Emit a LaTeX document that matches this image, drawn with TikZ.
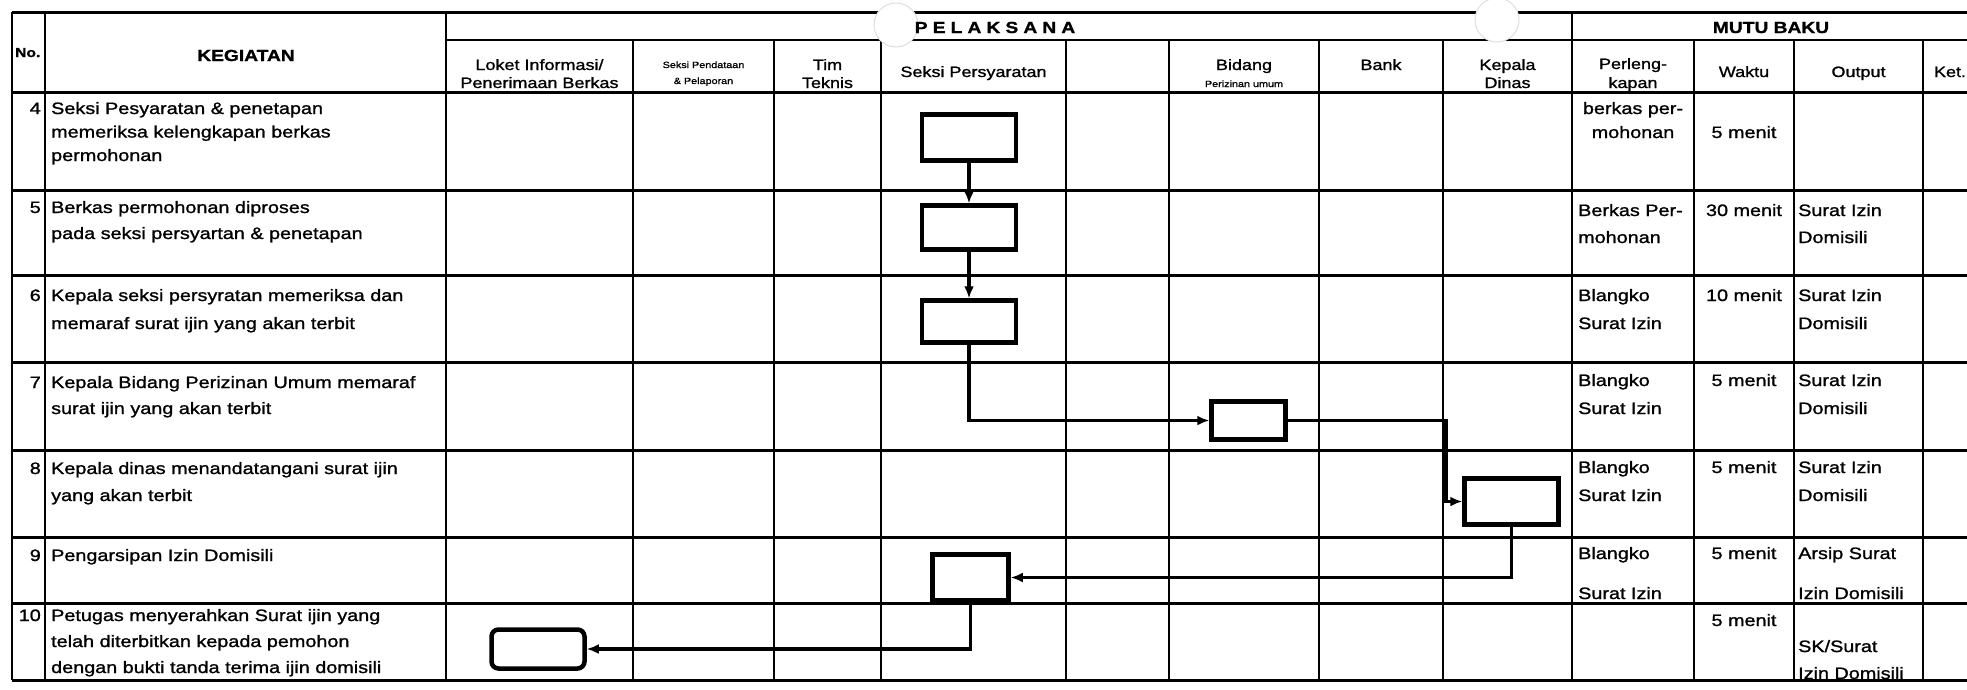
\documentclass[tikz,border=0pt]{standalone}
\usepackage{fontspec}
\setmainfont{Liberation Sans}[FakeStretch=1.2, FakeBold=1.2]
\usetikzlibrary{arrows.meta}

\begin{document}
\begin{tikzpicture}[x=1pt, y=-1pt, line join=miter,
  garis/.style={line width=2.4pt},
  garisx/.style={line width=3pt},
  kotak/.style={draw, line width=4.5pt, inner sep=0pt},
  alur/.style={line width=3.8pt, -{Latex[length=12pt,width=10pt]}},
  judul/.style={font=\fontsize{16}{20}\selectfont\bfseries, anchor=base, inner sep=0pt},
  sub/.style={font=\fontsize{15}{18}\selectfont, anchor=base, align=center, inner sep=0pt},
  subkecil/.style={font=\fontsize{9}{16}\selectfont, anchor=base, align=center, inner sep=0pt},
  isi/.style={font=\fontsize{16.5}{26}\selectfont, anchor=base west, align=left, inner sep=0pt},
  nomor/.style={font=\fontsize{16.5}{26}\selectfont, anchor=base east, inner sep=0pt},
  waktu/.style={font=\fontsize{16.5}{26}\selectfont, anchor=base, inner sep=0pt}]

  %% ════ garis tabel (horizontal) ════
  \draw[garisx] (12,12) -- (1967,12);
  \draw[garis] (446,40) -- (1967,40);
  \draw[garisx] (12,92) -- (1967,92);
  \draw[garisx] (12,190) -- (1967,190);
  \draw[garisx] (12,275) -- (1967,275);
  \draw[garisx] (12,362) -- (1967,362);
  \draw[garisx] (12,450) -- (1967,450);
  \draw[garisx] (12,537) -- (1967,537);
  \draw[garisx] (12,603) -- (1967,603);
  \draw[garisx] (12,680) -- (1967,680);

  %% ════ garis tabel (vertikal) ════
  \draw[garis] (12,12) -- (12,680);
  \draw[garis] (45,12) -- (45,680);
  \draw[garis] (446,12) -- (446,680);
  \draw[garis] (633,40) -- (633,680);
  \draw[garis] (774,40) -- (774,680);
  \draw[garis] (881,40) -- (881,680);
  \draw[garis] (1066,40) -- (1066,680);
  \draw[garis] (1169,40) -- (1169,680);
  \draw[garis] (1319,40) -- (1319,680);
  \draw[garis] (1443,40) -- (1443,680);
  \draw[garis] (1572,12) -- (1572,680);
  \draw[garis] (1694,40) -- (1694,680);
  \draw[garis] (1794,40) -- (1794,680);
  \draw[garis] (1923,40) -- (1923,680);

  % bekas lubang di kertas scan
  \filldraw[fill=white, draw=gray!25, line width=1pt] (896,25) circle (22pt);
  \filldraw[fill=white, draw=gray!25, line width=1pt] (1497,20) circle (22pt);

  %% ════ kepala tabel ════
  % anchor=base pada node bertingkat = baseline baris terakhir
  \node[judul, anchor=base west, font=\fontsize{13}{16}\selectfont\bfseries] (tNo) at (15,57) {No.};
  \node[judul] (tKeg) at (246,61) {KEGIATAN};
  \node[judul] (tPel) at (995,33) {\addfontfeature{LetterSpace=32}PELAKSANA};
  \node[judul] (tMutu) at (1771,33) {MUTU BAKU};

  \node[sub] (hLoket) at (539.5,88) {Loket Informasi/\\Penerimaan Berkas};
  \node[subkecil] (hData) at (703.5,84) {Seksi Pendataan\\\& Pelaporan};
  \node[sub] (hTim) at (827.5,88) {Tim\\Teknis};
  \node[sub] (hSP) at (973.5,77) {Seksi Persyaratan};
  \node[sub] (hBid) at (1244,70) {Bidang};
  \node[subkecil] (hPU) at (1244,87) {Perizinan umum};
  \node[sub] (hBank) at (1381,70) {Bank};
  \node[sub] (hKD) at (1507.5,88) {Kepala\\Dinas};
  \node[sub, font=\fontsize{15}{19}\selectfont] (hPerl) at (1633,88) {Perleng-\\kapan};
  \node[sub] (hWaktu) at (1744,77) {Waktu};
  \node[sub] (hOut) at (1858.5,77) {Output};
  \node[sub] (hKet) at (1950,77) {Ket.};

  %% ════ kegiatan ════
  \node[nomor] (n4) at (41,114) {4};
  \node[nomor] (n5) at (41,213) {5};
  \node[nomor] (n6) at (41,301) {6};
  \node[nomor] (n7) at (41,388) {7};
  \node[nomor] (n8) at (41,474) {8};
  \node[nomor] (n9) at (41,561) {9};
  \node[nomor] (n10) at (41,621) {10};

  \node[isi, font=\fontsize{16.5}{23.5}\selectfont] (k4) at (51,161) {Seksi Pesyaratan \& penetapan\\memeriksa kelengkapan berkas\\permohonan};
  \node[isi] (k5) at (51,239) {Berkas permohonan diproses\\pada seksi persyartan \& penetapan};
  \node[isi, font=\fontsize{16.5}{28}\selectfont] (k6) at (51,329) {Kepala seksi persyratan memeriksa dan\\memaraf surat ijin yang akan terbit};
  \node[isi] (k7) at (51,414) {Kepala Bidang Perizinan Umum memaraf\\surat ijin yang akan terbit};
  \node[isi, font=\fontsize{16.5}{27}\selectfont] (k8) at (51,501) {Kepala dinas menandatangani surat ijin\\yang akan terbit};
  \node[isi] (k9) at (51,561) {Pengarsipan Izin Domisili};
  \node[isi] (k10) at (51,673) {Petugas menyerahkan Surat ijin yang\\telah diterbitkan kepada pemohon\\dengan bukti tanda terima ijin domisili};

  %% ════ mutu baku ════
  \node[isi, anchor=base, align=center, font=\fontsize{16.5}{24}\selectfont] (p4) at (1633,138) {berkas per-\\mohonan};
  \node[isi, font=\fontsize{16.5}{27}\selectfont] (p5) at (1578,243) {Berkas Per-\\mohonan};
  \node[isi, font=\fontsize{16.5}{28}\selectfont] (p6) at (1578,329) {Blangko\\Surat Izin};
  \node[isi, font=\fontsize{16.5}{28}\selectfont] (p7) at (1578,414) {Blangko\\Surat Izin};
  \node[isi, font=\fontsize{16.5}{28}\selectfont] (p8) at (1578,501) {Blangko\\Surat Izin};
  \node[isi] (p9) at (1578,599) {Blangko\\[14pt]Surat Izin};

  \node[waktu] (w4) at (1744,138) {5 menit};
  \node[waktu] (w5) at (1744,216) {30 menit};
  \node[waktu] (w6) at (1744,301) {10 menit};
  \node[waktu] (w7) at (1744,386) {5 menit};
  \node[waktu] (w8) at (1744,473) {5 menit};
  \node[waktu] (w9) at (1744,559) {5 menit};
  \node[waktu] (w10) at (1744,626) {5 menit};

  \node[isi, font=\fontsize{16.5}{27}\selectfont] (o5) at (1798,243) {Surat Izin\\Domisili};
  \node[isi, font=\fontsize{16.5}{28}\selectfont] (o6) at (1798,329) {Surat Izin\\Domisili};
  \node[isi, font=\fontsize{16.5}{28}\selectfont] (o7) at (1798,414) {Surat Izin\\Domisili};
  \node[isi, font=\fontsize{16.5}{28}\selectfont] (o8) at (1798,501) {Surat Izin\\Domisili};
  \node[isi] (o9) at (1798,599) {Arsip Surat\\[14pt]Izin Domisili};
  \node[isi, font=\fontsize{16.5}{27}\selectfont] (o10) at (1798,679) {SK/Surat\\Izin Domisili};

  %% ════ kotak alur ════
  \node[kotak, minimum width=94pt, minimum height=46pt] (b4) at (969,137.5) {};
  \node[kotak, minimum width=94pt, minimum height=44pt] (b5) at (969,227.5) {};
  \node[kotak, minimum width=94pt, minimum height=42pt] (b6) at (969,321.5) {};
  \node[kotak, minimum width=74pt, minimum height=38pt] (b7) at (1248.5,420.5) {};
  \node[kotak, minimum width=94pt, minimum height=46pt] (b8) at (1511.5,501.5) {};
  \node[kotak, minimum width=76pt, minimum height=46pt] (b9) at (970.5,577.5) {};
  \node[kotak, rounded corners=7pt, minimum width=93pt, minimum height=39pt] (b10) at (538,649) {};

  %% ════ panah ════
  \coordinate (s78) at (1446,424);
  \draw[alur] (b4.south) -- (b5.north);
  \draw[alur] (b5.south) -- (b6.north);
  \draw[alur] (b6.south) |- (b7.west);
  \draw[alur] (b7.east) -- (b7.east -| s78) |- (b8.west);
  \draw[alur] (b8.south) |- (b9.east);
  \draw[alur] (b9.south) |- (b10.east);

  \pgfresetboundingbox
  \path[use as bounding box] (0,0) rectangle (1967,689);
\end{tikzpicture}
\end{document}
